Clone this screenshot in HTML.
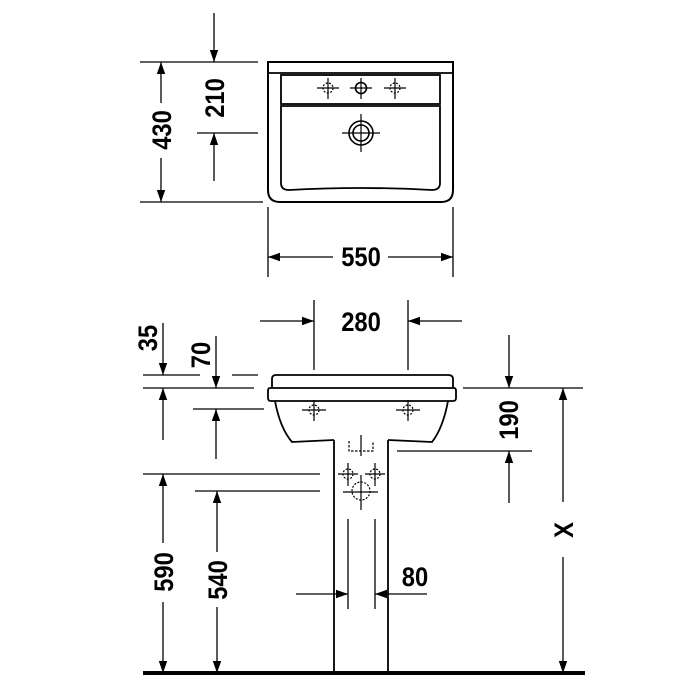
<!DOCTYPE html>
<html><head><meta charset="utf-8"><style>
html,body{margin:0;padding:0;background:#fff;}
svg{display:block;}
text{font-family:"Liberation Sans",sans-serif;font-weight:bold;font-size:27px;fill:#000;}
</style></head><body>
<svg width="700" height="700" viewBox="0 0 700 700" xmlns="http://www.w3.org/2000/svg">
<defs>
<marker id="a" viewBox="0 0 10 10" refX="10" refY="5" markerWidth="12" markerHeight="12" markerUnits="userSpaceOnUse" orient="auto"><path d="M0,1.5 L10,5 L0,8.5 z" fill="#000"/></marker>
</defs>
<g stroke="#000" fill="none" stroke-width="1.3">
<path d="M268,62 H453 V190 Q453,202 441,202 H280 Q268,202 268,190 Z" stroke-width="2"/>
<line x1="268" y1="73" x2="453" y2="73" stroke-width="1.8"/>
<rect x="281" y="75" width="159" height="29" stroke-width="1.8"/>
<path d="M281,106 H440 V183 Q440,190 432,190 Q361,186 289,190 Q281,190 281,183 Z" stroke-width="1.8"/>
<g stroke-width="1.2">
<line x1="317" y1="88" x2="339" y2="88"/><line x1="328" y1="78" x2="328" y2="99"/>
<circle cx="328" cy="88" r="5" stroke-dasharray="2 1.5"/>
<line x1="350" y1="88" x2="372" y2="88"/><line x1="361" y1="78" x2="361" y2="99"/>
<circle cx="361" cy="88" r="5.5" stroke-width="1.6"/>
<line x1="384" y1="88" x2="406" y2="88"/><line x1="395" y1="78" x2="395" y2="99"/>
<circle cx="395" cy="88" r="5" stroke-dasharray="2 1.5"/>
<line x1="342" y1="133" x2="380" y2="133"/><line x1="361" y1="114" x2="361" y2="152"/>
</g>
<circle cx="361" cy="133" r="12" stroke-width="1.6"/>
<circle cx="361" cy="133" r="8" stroke-width="1.6"/>
<line x1="140" y1="62" x2="258" y2="62"/>
<line x1="140" y1="202" x2="263" y2="202"/>
<line x1="161" y1="103" x2="161" y2="62" marker-end="url(#a)"/>
<line x1="161" y1="158" x2="161" y2="202" marker-end="url(#a)"/>
<line x1="214" y1="13" x2="214" y2="62" marker-end="url(#a)"/>
<line x1="197" y1="133" x2="258" y2="133"/>
<line x1="214" y1="181" x2="214" y2="133" marker-end="url(#a)"/>
<line x1="268" y1="207" x2="268" y2="277"/>
<line x1="453" y1="207" x2="453" y2="277"/>
<line x1="333" y1="257" x2="268" y2="257" marker-end="url(#a)"/>
<line x1="388" y1="257" x2="453" y2="257" marker-end="url(#a)"/>

<path d="M272,388 V379 Q272,375 276,375 H448 Q453,375 453,379 V388" stroke-width="1.8"/>
<path d="M270,388 H454 Q456,388 456,391 V398 Q456,401 453,401 H271 Q268,401 268,398 V391 Q268,388 270,388 Z" stroke-width="1.8"/>
<path d="M275,401 Q280,428 292,442 Q313,441 334,440" stroke-width="1.8"/>
<path d="M448,401 Q443,428 432,442 Q410,441 388,440" stroke-width="1.8"/>
<line x1="334" y1="440" x2="334" y2="672" stroke-width="1.8"/>
<line x1="388" y1="440" x2="388" y2="672" stroke-width="1.8"/>
<line x1="143" y1="673" x2="585" y2="673" stroke-width="4"/>
<g stroke-width="1.2">
<line x1="302" y1="410" x2="326" y2="410"/><line x1="314" y1="400" x2="314" y2="421"/>
<circle cx="314" cy="410" r="5" stroke-dasharray="2 1.5"/>
<line x1="396" y1="410" x2="420" y2="410"/><line x1="408" y1="400" x2="408" y2="421"/>
<circle cx="408" cy="410" r="5" stroke-dasharray="2 1.5"/>
<path d="M349,441 V451 H373 V441" stroke-dasharray="2.5 1.5"/>
<line x1="361" y1="435" x2="361" y2="456"/>
<line x1="338" y1="474" x2="358" y2="474"/><line x1="348" y1="463" x2="348" y2="486"/>
<circle cx="348" cy="474" r="5" stroke-dasharray="2 1.5"/>
<line x1="365" y1="474" x2="385" y2="474"/><line x1="375" y1="463" x2="375" y2="486"/>
<circle cx="375" cy="474" r="5" stroke-dasharray="2 1.5"/>
<circle cx="361" cy="491" r="9" stroke-dasharray="2 1.5"/>
<line x1="343" y1="492" x2="378" y2="492"/><line x1="361" y1="475" x2="361" y2="510"/>
</g>
<line x1="314" y1="300" x2="314" y2="370"/>
<line x1="408" y1="300" x2="408" y2="370"/>
<line x1="260" y1="321" x2="314" y2="321" marker-end="url(#a)"/>
<line x1="462" y1="321" x2="408" y2="321" marker-end="url(#a)"/>
<line x1="143" y1="375" x2="200" y2="375"/>
<line x1="232" y1="375" x2="258" y2="375"/>
<line x1="143" y1="388" x2="254" y2="388"/>
<line x1="163" y1="323" x2="163" y2="375" marker-end="url(#a)"/>
<line x1="163" y1="440" x2="163" y2="388" marker-end="url(#a)"/>
<line x1="216" y1="336" x2="216" y2="388" marker-end="url(#a)"/>
<line x1="193" y1="409" x2="264" y2="409"/>
<line x1="216" y1="459" x2="216" y2="409" marker-end="url(#a)"/>
<line x1="463" y1="388" x2="583" y2="388"/>
<line x1="509" y1="335" x2="509" y2="388" marker-end="url(#a)"/>
<line x1="397" y1="451" x2="532" y2="451"/>
<line x1="509" y1="503" x2="509" y2="451" marker-end="url(#a)"/>
<line x1="563" y1="502" x2="563" y2="388" marker-end="url(#a)"/>
<line x1="563" y1="557" x2="563" y2="673" marker-end="url(#a)"/>
<line x1="143" y1="474" x2="320" y2="474"/>
<line x1="163" y1="543" x2="163" y2="474" marker-end="url(#a)"/>
<line x1="163" y1="602" x2="163" y2="673" marker-end="url(#a)"/>
<line x1="195" y1="491" x2="320" y2="491"/>
<line x1="217" y1="552" x2="217" y2="491" marker-end="url(#a)"/>
<line x1="217" y1="607" x2="217" y2="673" marker-end="url(#a)"/>
<line x1="348" y1="519" x2="348" y2="609"/>
<line x1="375" y1="519" x2="375" y2="609"/>
<line x1="296" y1="594" x2="348" y2="594" marker-end="url(#a)"/>
<line x1="427" y1="594" x2="375" y2="594" marker-end="url(#a)"/>
</g>
<text transform="translate(361,266) scale(0.88,1)" text-anchor="middle">550</text>
<text transform="translate(361,331) scale(0.88,1)" text-anchor="middle">280</text>
<text transform="translate(415,586) scale(0.88,1)" text-anchor="middle">80</text>
<text transform="translate(171,130) rotate(-90) scale(0.88,1)" text-anchor="middle">430</text>
<text transform="translate(224,98) rotate(-90) scale(0.88,1)" text-anchor="middle">210</text>
<text transform="translate(157,338) rotate(-90) scale(0.88,1)" text-anchor="middle">35</text>
<text transform="translate(210,355) rotate(-90) scale(0.88,1)" text-anchor="middle">70</text>
<text transform="translate(518,420) rotate(-90) scale(0.88,1)" text-anchor="middle">190</text>
<text transform="translate(573,530) rotate(-90) scale(0.88,1)" text-anchor="middle">X</text>
<text transform="translate(173,572) rotate(-90) scale(0.88,1)" text-anchor="middle">590</text>
<text transform="translate(227,580) rotate(-90) scale(0.88,1)" text-anchor="middle">540</text>
</svg>
</body></html>
